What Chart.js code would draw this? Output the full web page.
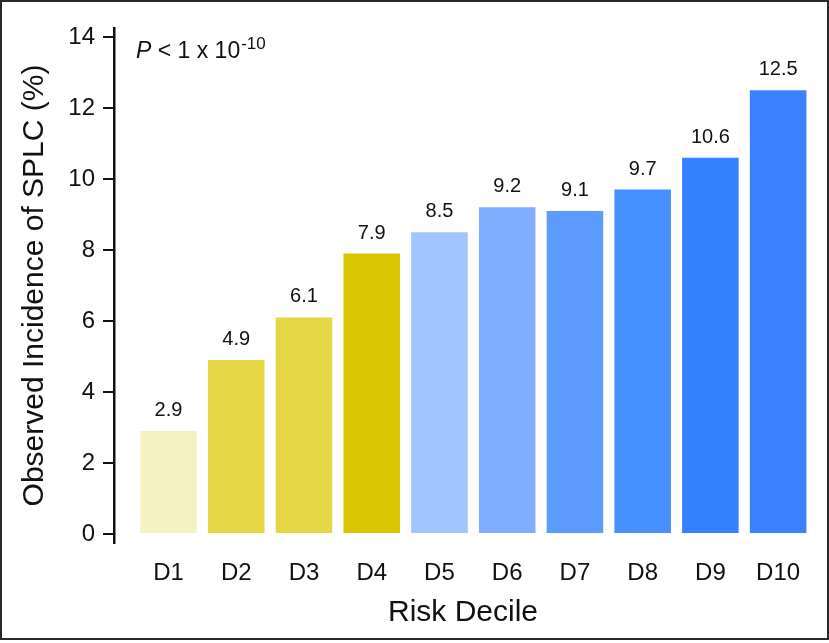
<!DOCTYPE html>
<html>
<head>
<meta charset="utf-8">
<script src="https://cdn.jsdelivr.net/npm/chart.js@4.4.1/dist/chart.umd.min.js"></script>
<style>
  html, body { margin: 0; padding: 0; background: #fff; }
  canvas { display: block; }
</style>
</head>
<body>
<canvas id="splcChart" width="829" height="643"></canvas>
<script>
// Observed incidence of SPLC by risk decile
const deciles = ["D1", "D2", "D3", "D4", "D5", "D6", "D7", "D8", "D9", "D10"];
const incidence = [2.9, 4.9, 6.1, 7.9, 8.5, 9.2, 9.1, 9.7, 10.6, 12.5];
const barColors = ["#f5f1c2", "#e5d645", "#e5d645", "#d9c600", "#a2c4ff",
                   "#7faeff", "#5c9cff", "#4690ff", "#3681ff", "#3a80ff"];
const yTicks = [0, 2, 4, 6, 8, 10, 12, 14];
const pLabel = { main: " < 1 x 10", exp: "-10" };

const sans = "'Liberation Sans', Arial, sans-serif";

// frame around the whole figure
const framePlugin = {
    id: "frame",
    beforeDraw(chart) {
        const c = chart.ctx;
        c.save();
        c.fillStyle = "#fff";
        c.fillRect(0, 0, chart.width, chart.height);
        c.strokeStyle = "#2a2a2a";
        c.lineWidth = 2;
        c.strokeRect(1, 1, chart.width - 2, chart.height - 5);
        c.restore();
    }
};

// numbers above bars + P value note
const labelPlugin = {
    id: "barLabels",
    afterDatasetsDraw(chart) {
        const c = chart.ctx;
        const meta = chart.getDatasetMeta(0);
        c.save();
        c.fillStyle = "#111";
        c.font = "20px " + sans;
        c.textAlign = "center";
        c.textBaseline = "alphabetic";
        meta.data.forEach((bar, i) => {
            c.fillText(incidence[i].toFixed(1), bar.x, bar.y - 15);
        });

        const x0 = chart.chartArea.left + 22;
        const base = 58;
        c.textAlign = "left";
        c.font = "italic 23px " + sans;
        c.fillText("P", x0, base);
        let x = x0 + c.measureText("P").width;
        c.font = "23px " + sans;
        c.fillText(pLabel.main, x, base);
        x += c.measureText(pLabel.main).width + 1;
        c.font = "17px " + sans;
        c.fillText(pLabel.exp, x, base - 9);
        c.restore();
    }
};

new Chart(document.getElementById("splcChart"), {
    type: "bar",
    data: {
        datasets: [{
            data: deciles.map((d, i) => ({ x: i + 1, y: incidence[i] })),
            backgroundColor: barColors,
            borderWidth: 0,
            categoryPercentage: 1,
            barPercentage: 0.835
        }]
    },
    options: {
        responsive: false,
        animation: false,
        layout: { padding: { top: 28, right: 17, left: 0, bottom: 0 } },
        plugins: {
            legend: { display: false },
            tooltip: { enabled: false }
        },
        scales: {
            x: {
                type: "linear",
                offset: false,
                min: 0.195,
                max: 10.5,
                afterFit: (s) => { s.height = 100; },
                afterBuildTicks: (s) => { s.ticks = deciles.map((d, i) => ({ value: i + 1 })); },
                grid: { display: false, drawTicks: false },
                border: { display: false },
                ticks: {
                    padding: 16,
                    color: "#111",
                    font: { family: sans, size: 24 },
                    callback: (v, i) => deciles[i]
                },
                title: {
                    display: true,
                    text: "Risk Decile",
                    color: "#111",
                    font: { family: sans, size: 30 },
                    padding: { top: 0, bottom: 12 }
                }
            },
            y: {
                min: -0.25,
                max: 14.25,
                afterFit: (s) => { s.width = 114; },
                afterBuildTicks: (s) => { s.ticks = yTicks.map(v => ({ value: v })); },
                grid: {
                    drawOnChartArea: false,
                    drawTicks: true,
                    tickLength: 11,
                    color: "#111",
                    lineWidth: 2
                },
                border: { display: true, color: "#111", width: 2.5 },
                ticks: {
                    padding: 8,
                    color: "#111",
                    font: { family: sans, size: 24 }
                },
                title: {
                    display: true,
                    text: "Observed Incidence of SPLC (%)",
                    color: "#111",
                    font: { family: sans, size: 30 },
                    padding: { top: 17, bottom: 0 }
                }
            }
        }
    },
    plugins: [framePlugin, labelPlugin]
});
</script>
</body>
</html>
